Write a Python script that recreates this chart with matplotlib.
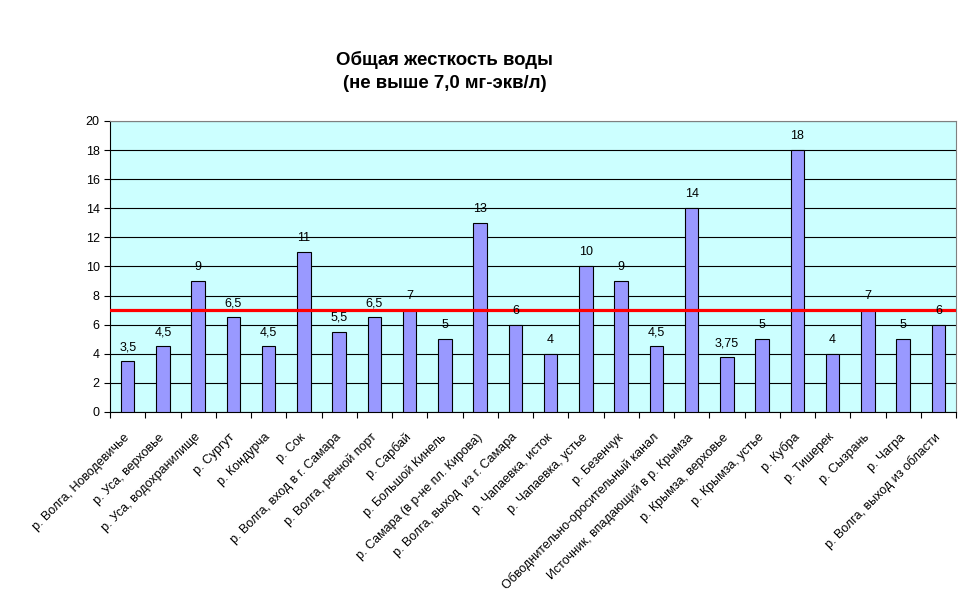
import numpy as np
import matplotlib
matplotlib.use("Agg")
import matplotlib.pyplot as plt

plt.rcParams['font.family'] = ['Liberation Sans', 'DejaVu Sans']

sites = ['р. Волга, Новодевичье', 'р. Уса, верховье', 'р. Уса, водохранилище',
         'р. Сургут', 'р. Кондурча', 'р. Сок', 'р. Волга, вход в г. Самара',
         'р. Волга, речной порт', 'р. Сарбай', 'р. Большой Кинель',
         'р. Самара (в р-не пл. Кирова)', 'р. Волга, выход  из г. Самара',
         'р. Чапаевка, исток', 'р. Чапаевка, устье', 'р. Безенчук',
         'Обводнительно-оросительный канал', 'Источник, впадающий в р. Крымза',
         'р. Крымза, верховье', 'р. Крымза, устье', 'р. Кубра', 'р. Тишерек',
         'р. Сызрань', 'р. Чагра', 'р. Волга, выход из области']
hardness = [3.5, 4.5, 9, 6.5, 4.5, 11, 5.5, 6.5, 7, 5, 13, 6,
            4, 10, 9, 4.5, 14, 3.75, 5, 18, 4, 7, 5, 6]
limit = 7.0
yticks = list(range(0, 21, 2))

fig = plt.figure(figsize=(9.71, 6.04), dpi=100)
ax = fig.add_axes([0.1133, 0.318, 0.8713, 0.4817])
ax.set_facecolor('#CCFFFF')

x = np.arange(len(sites))
ax.bar(x, hardness, width=0.38, color='#9999FF', edgecolor='black', linewidth=0.8, zorder=3)
for xi, v in zip(x, hardness):
    txt = ('%g' % v).replace('.', ',')
    ax.text(xi, v + 0.55, txt, ha='center', va='bottom', fontsize=9, zorder=5)

ax.axhline(limit, color='#FF0000', lw=2.3, zorder=4)

ax.set_xlim(-0.5, len(sites) - 0.5)
ax.set_ylim(0, 20)
ax.set_yticks(yticks)
ax.yaxis.grid(True, color='black', lw=0.8, zorder=1)
ax.tick_params(axis='y', labelsize=9, length=4, direction='out')

ax.set_xticks(np.arange(len(sites) + 1) - 0.5)
ax.set_xticklabels([])
ax.tick_params(axis='x', which='major', length=4, direction='out')
ax.set_xticks(x, minor=True)
ax.set_xticklabels(sites, minor=True, rotation=45, ha='right', va='center',
                   rotation_mode='anchor', fontsize=9)
ax.tick_params(axis='x', which='minor', length=0, pad=17)

for s in ['top', 'right']:
    ax.spines[s].set_color('#808080')

fig.text(0.458, 0.882, 'Общая жесткость воды\n(не выше 7,0 мг-экв/л)',
         ha='center', va='center', fontsize=13.4, fontweight='bold', linespacing=1.45)

fig.savefig('out.png', dpi=100)
